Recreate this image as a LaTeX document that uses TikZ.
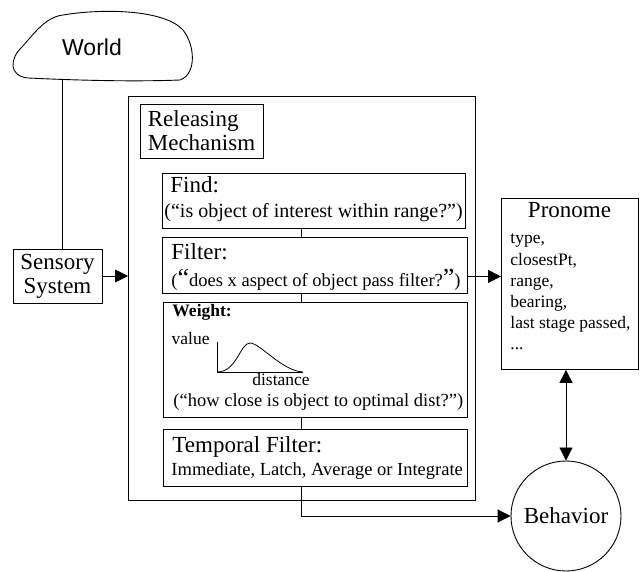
\documentclass[tikz,border=0pt]{standalone}
\usepackage{fontspec}
\setmainfont{Liberation Serif}
\newfontfamily\worldfont{Liberation Sans}
\usetikzlibrary{arrows.meta}
\newcommand\rmbig{\fontsize{23}{24}\selectfont}
\newcommand\rmsub{\fontsize{18.5}{21}\selectfont}
\newcommand\rmsmall{\fontsize{17.5}{21}\selectfont}
\newcommand\bigquote[1]{{\fontsize{26}{26}\selectfont #1}}

\begin{document}
\begin{tikzpicture}[x=1pt,y=-1pt,line width=0.9pt,
  box/.style={draw,rectangle,anchor=north west,inner sep=0pt},
  txt/.style={anchor=base west,inner sep=0pt},
  arr/.style={-{Triangle[length=13pt,width=13pt]}},
  dblarr/.style={{Triangle[length=13pt,width=13pt]}-{Triangle[length=13pt,width=13pt]}}]
\useasboundingbox (0,0) rectangle (641,572);

% world blob
\draw (63,15) .. controls (105,8) and (165,10) .. (183,30)
  .. controls (195,45) and (197,74) .. (180,80)
  .. controls (130,82) and (70,80) .. (28,78)
  .. controls (8,76) and (10,58) .. (22,47)
  .. controls (33,35) and (45,17) .. (63,15);
\node[anchor=base,inner sep=0pt,font=\worldfont\fontsize{23}{24}\selectfont] (world) at (92,56) {World};
\coordinate (worldfoot) at (62,80);

\node[draw,align=center,minimum width=89pt,minimum height=54pt,inner sep=0pt,font=\rmbig] (sensory) at (57.5,276) {Sensory\\System};

% releasing mechanism
\node[box,minimum width=347pt,minimum height=404pt] (rm) at (128,96) {};
\node[draw,align=left,minimum width=123pt,minimum height=54pt,inner sep=0pt,font=\rmbig] (rmlabel) at (201.5,131) {Releasing\\Mechanism};

\node[box,minimum width=303pt,minimum height=55pt] (find) at (162,173) {};
\node[txt,font=\rmbig] (findtitle) at (170,193) {Find:};
\node[txt,font=\fontsize{20}{22}\selectfont] (findsub) at (164,218) {(“is object of interest within range?”)};

\node[box,minimum width=305pt,minimum height=56pt] (filter) at (162,237) {};
\node[txt,font=\rmbig] (filtertitle) at (171,260) {Filter:};
\node[txt,font=\rmsub] (filtersub) at (171,287) {(\bigquote{“}does x aspect of object pass filter?\bigquote{”})};

\node[box,minimum width=304pt,minimum height=115pt] (weight) at (163,302) {};
\node[txt,font=\fontsize{17.5}{20}\selectfont\bfseries] (weighttitle) at (172,317) {Weight:};
\node[anchor=base east,inner sep=0pt,font=\rmsmall] (value) at (210,345) {value};
\node[anchor=base,inner sep=0pt,font=\rmsmall] (distance) at (281,386) {distance};
\draw[line width=0.8pt] (217,342) -- (217,372) -- (303,372);
\draw[line width=0.8pt] (217,372) .. controls (237,372) and (240,343) .. (250,343)
  .. controls (260,343) and (282,371) .. (303,372);
\node[txt,font=\rmsub] (weightsub) at (173,407) {(“how close is object to optimal dist?”)};

\node[box,minimum width=304pt,minimum height=57pt] (temporal) at (163,429) {};
\node[txt,font=\rmbig] (temporaltitle) at (172,453) {Temporal Filter:};
\node[txt,font=\rmsub] (temporalsub) at (171,476) {Immediate, Latch, Average or Integrate};

% pronome
\node[box,minimum width=137pt,minimum height=171pt] (pronome) at (501,198) {};
\node[anchor=base,inner sep=0pt,font=\rmbig] (pronometitle) at (569.5,218) {Pronome};
\foreach \entry [count=\n from 0] in {type,closestPt,range,bearing,last stage passed}
  \node[txt,font=\rmsmall] (pitem\n) at (510,244+21.2*\n) {\entry,};
\node[txt,font=\rmsmall] (pitemdots) at (510,350) {.{}.{}.};

\node[draw,circle,minimum size=110pt,inner sep=0pt,font=\rmbig] (behavior) at (566,516) {Behavior};

% connectors
\coordinate (spine) at (301,0);
\draw (worldfoot) -- (worldfoot |- sensory.north);
\draw[arr] (sensory.east) -- (sensory.east -| rm.west);
\draw (find.south -| spine) -- (filter.north -| spine);
\draw (filter.south -| spine) -- (weight.north -| spine);
\draw (weight.south -| spine) -- (temporal.north -| spine);
\draw[arr] (temporal.south -| spine) |- (behavior.west);
\draw[arr] ([yshift=-11pt]filter.east) -- ([yshift=-11pt]filter.east -| pronome.west);
\draw[dblarr] (behavior.north |- pronome.south) -- (behavior.north);
\end{tikzpicture}
\end{document}
